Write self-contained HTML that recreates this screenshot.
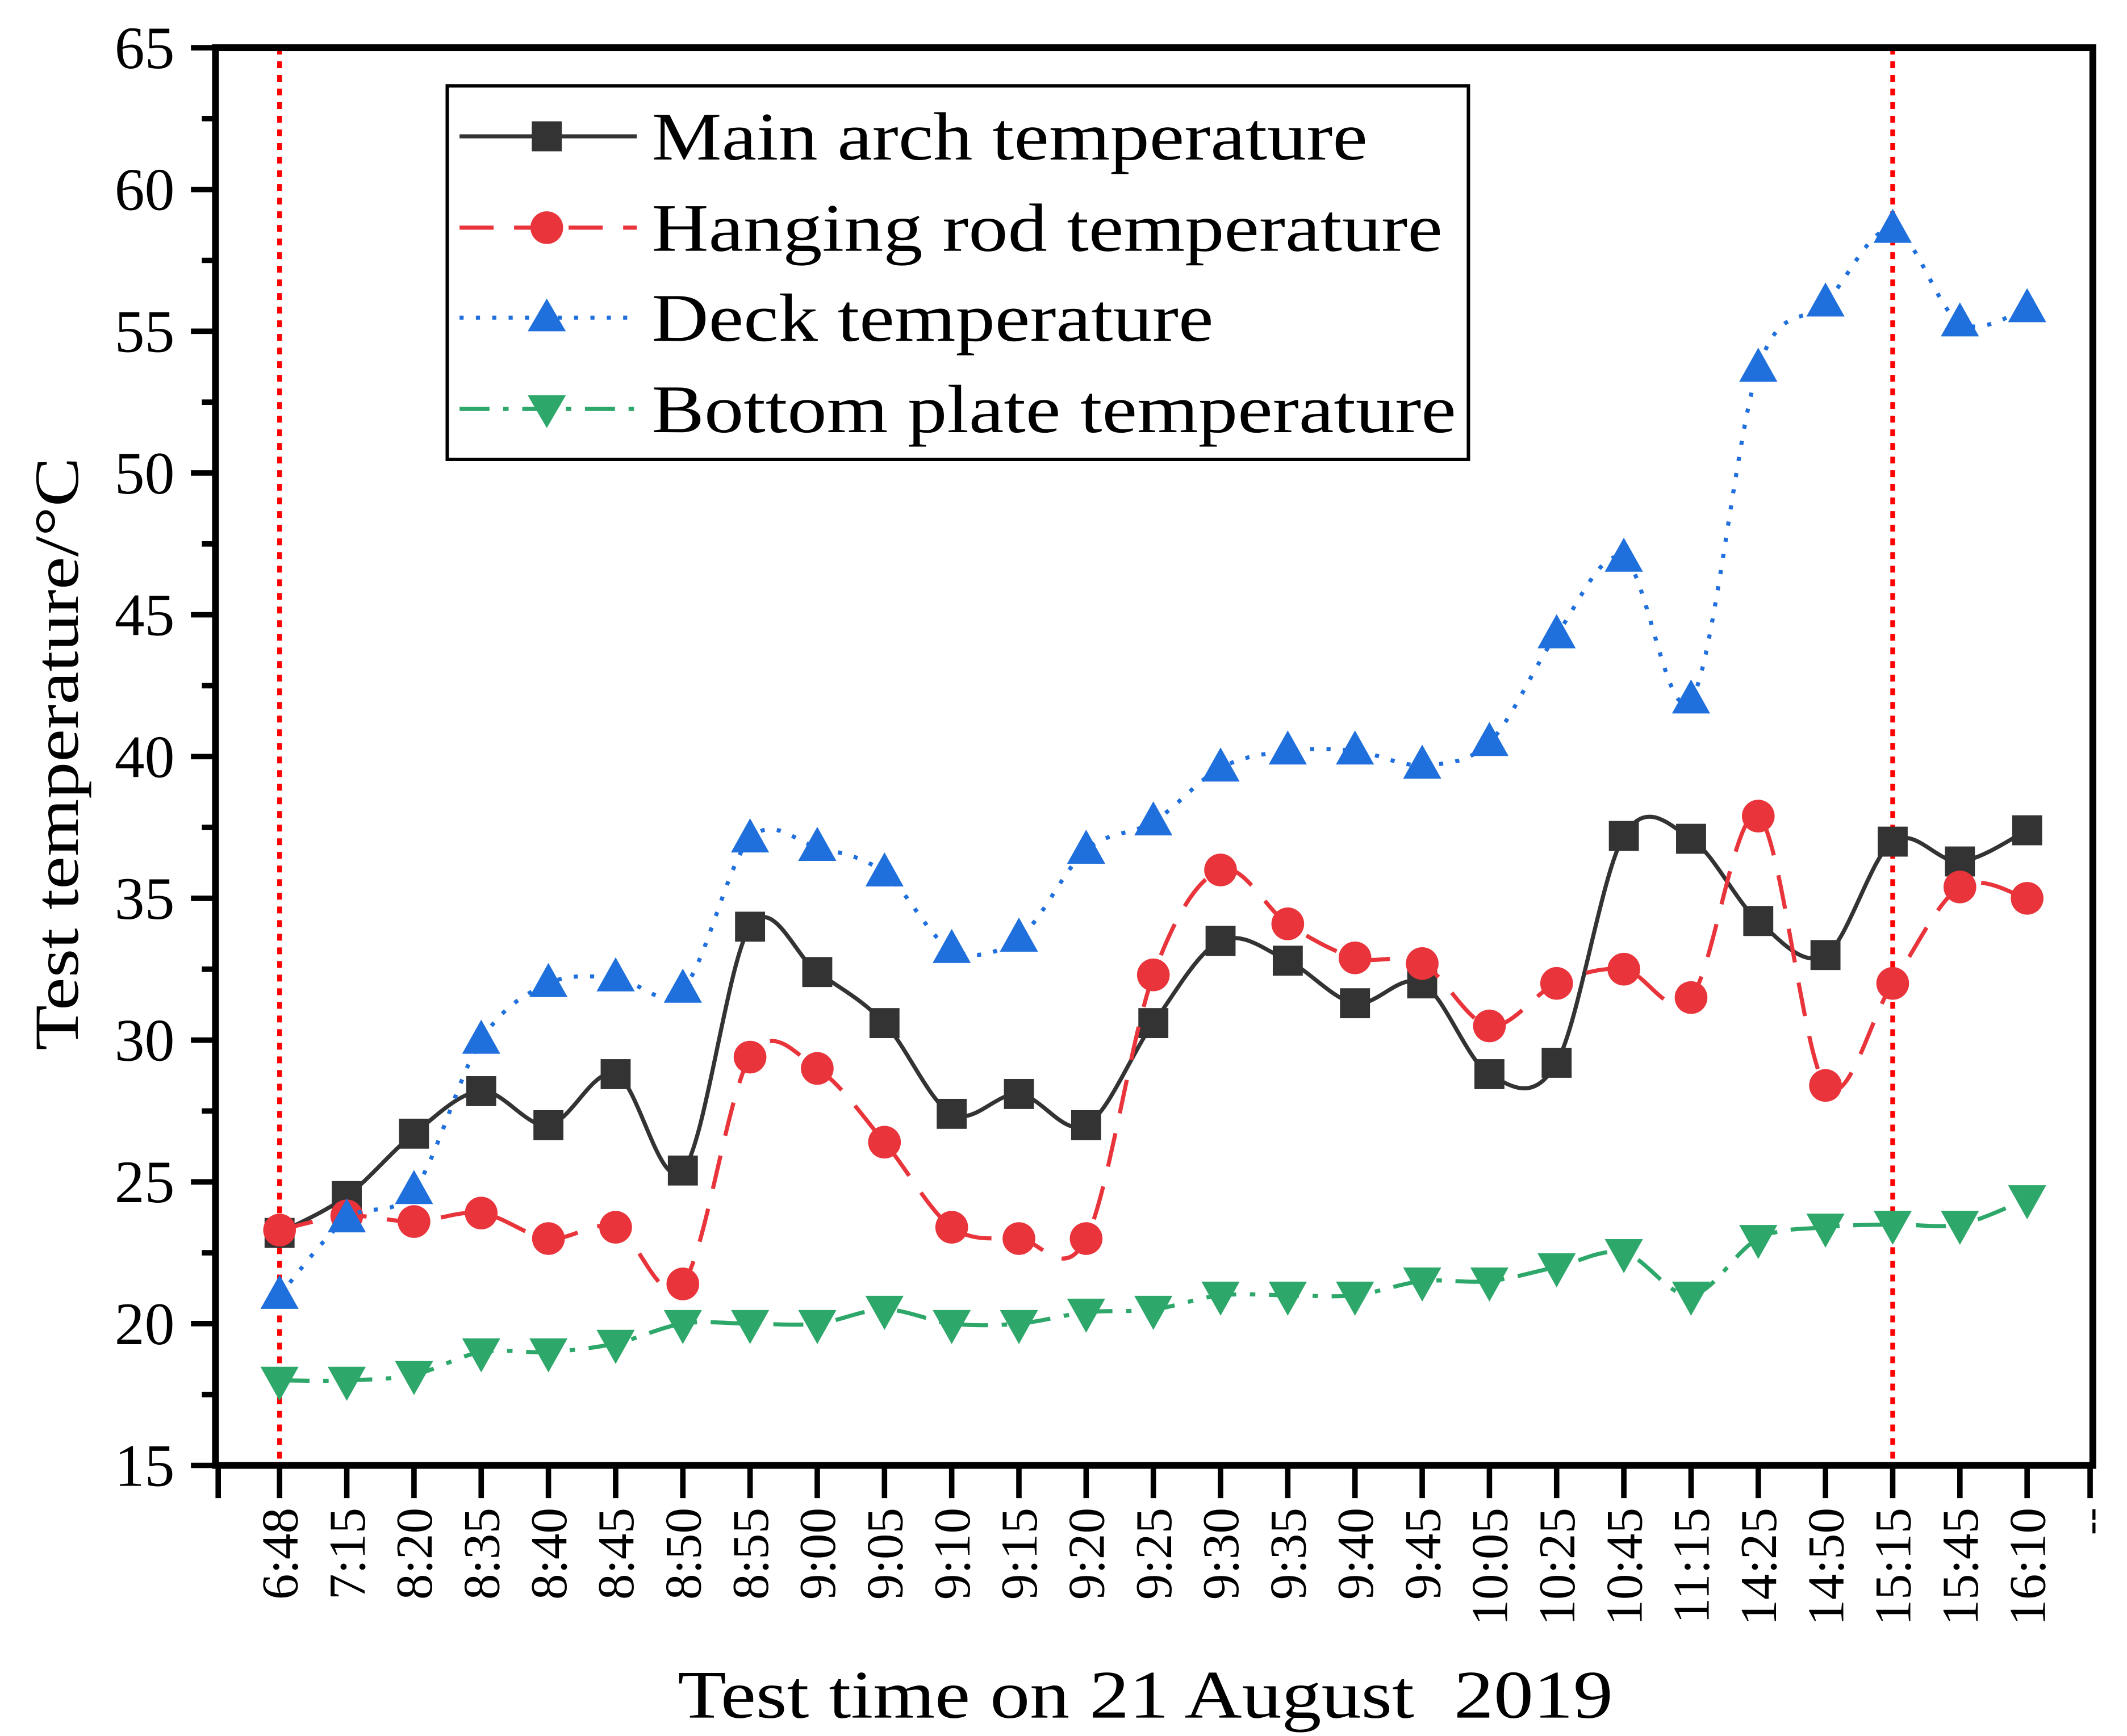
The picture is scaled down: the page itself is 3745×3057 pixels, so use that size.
<!DOCTYPE html>
<html><head><meta charset="utf-8"><style>
html,body{margin:0;padding:0;background:#fff;}
svg{display:block;}
text{font-family:"Liberation Serif",serif;fill:#000;}
</style></head><body>
<svg id="chart" width="3745" height="3057" viewBox="0 0 1560 1273.5" xmlns="http://www.w3.org/2000/svg">
<g id="grid"></g>
<g id="series"></g>
<g id="axes"></g>
<g>
<rect x="328" y="63" width="749" height="274" fill="#fff" stroke="#000" stroke-width="2.5"/>
<g>
<line x1="337" y1="100" x2="467" y2="100" stroke="#333" stroke-width="3"/>
<rect x="390" y="89" width="22" height="22" fill="#333"/>
<text x="478" y="117" font-size="50" textLength="525" lengthAdjust="spacingAndGlyphs">Main arch temperature</text></g>
<g>
<line x1="337" y1="167" x2="467" y2="167" stroke="#e8343a" stroke-width="3" stroke-dasharray="25,15"/>
<circle cx="401" cy="167" r="12" fill="#e8343a"/>
<text x="478" y="184" font-size="50" textLength="580" lengthAdjust="spacingAndGlyphs">Hanging rod temperature</text></g>
<g>
<line x1="337" y1="233" x2="467" y2="233" stroke="#1f6fdc" stroke-width="3" stroke-dasharray="3,9"/>
<path d="M401,219 L415,243 L387,243 Z" fill="#1f6fdc"/>
<text x="478" y="250" font-size="50" textLength="412" lengthAdjust="spacingAndGlyphs">Deck temperature</text></g>
<g>
<line x1="337" y1="300" x2="467" y2="300" stroke="#2ea86a" stroke-width="3" stroke-dasharray="22,10,4,10"/>
<path d="M387,290 L415,290 L401,314 Z" fill="#2ea86a"/>
<text x="478" y="317" font-size="50" textLength="590" lengthAdjust="spacingAndGlyphs">Bottom plate temperature</text></g>
</g>
<text transform="translate(57,553) rotate(-90)" text-anchor="middle" font-size="46" textLength="435" lengthAdjust="spacingAndGlyphs">Test temperature/°C</text>
<text x="840" y="1260" text-anchor="middle" font-size="50" textLength="686" lengthAdjust="spacingAndGlyphs" xml:space="preserve">Test time on 21 August  2019</text>
</svg>
<script>
const categories=["6:48","7:15","8:20","8:35","8:40","8:45","8:50","8:55","9:00","9:05","9:10","9:15","9:20","9:25","9:30","9:35","9:40","9:45","10:05","10:25","10:45","11:15","14:25","14:50","15:15","15:45","16:10"];
const mainArch=[23.2,24.5,26.7,28.2,27.0,28.8,25.4,34.0,32.4,30.6,27.4,28.1,27.0,30.6,33.5,32.8,31.3,32.0,28.8,29.2,37.2,37.1,34.2,33.0,37.0,36.3,37.4];
const hangingRod=[23.3,23.8,23.6,23.9,23.0,23.4,21.4,29.4,29.0,26.4,23.4,23.0,23.0,32.3,36.0,34.1,32.9,32.7,30.5,32.0,32.5,31.5,37.9,28.4,32.0,35.4,35.0];
const deck=[21.0,23.7,24.7,30.0,32.0,32.2,31.8,37.1,36.8,35.9,33.2,33.6,36.7,37.7,39.6,40.2,40.2,39.7,40.5,44.3,47.0,42.0,53.7,56.0,58.6,55.3,55.8];
const bottomPlate=[18.0,18.0,18.2,19.0,19.0,19.3,20.0,20.0,20.0,20.5,20.0,20.0,20.4,20.5,21.0,21.0,21.0,21.5,21.5,22.0,22.5,21.0,23.0,23.4,23.5,23.5,24.4];
const yTicks=[15,20,25,30,35,40,45,50,55,60,65];
const markerLines=["6:48","15:15"];

const NS="http://www.w3.org/2000/svg";
const L=158,R=1535,T=35,B=1075,X0=205,DX=49.3;
function xs(i){return X0+i*DX;}
function ys(v){return B-(v-15)*(B-T)/50;}
function mk(tag,attrs,parent){const e=document.createElementNS(NS,tag);for(const k in attrs)e.setAttribute(k,attrs[k]);parent.appendChild(e);return e;}
const axes=document.getElementById('axes'),series=document.getElementById('series'),grid=document.getElementById('grid');

markerLines.forEach(c=>{const i=categories.indexOf(c);
const l=mk('line',{x1:xs(i),x2:xs(i),y1:T,y2:B+8,stroke:'#ff0000','stroke-width':3.5,'stroke-dasharray':'5,5'},grid);

});

function smoothPath(vals){const p=vals.map((v,i)=>[xs(i),ys(v)]);let d='M'+p[0][0]+','+p[0][1];
for(let i=0;i<p.length-1;i++){const p0=p[i-1]||p[i],p1=p[i],p2=p[i+1],p3=p[i+2]||p2;
const c1=[p1[0]+(p2[0]-p0[0])/6,p1[1]+(p2[1]-p0[1])/6],c2=[p2[0]-(p3[0]-p1[0])/6,p2[1]-(p3[1]-p1[1])/6];
d+=' C'+c1+' '+c2+' '+p2;}return d;}

const defs=[
{name:'main-arch',vals:mainArch,color:'#333',dash:'',m:'sq'},
{name:'hanging-rod',vals:hangingRod,color:'#e8343a',dash:'25,15',m:'ci'},
{name:'deck',vals:deck,color:'#1f6fdc',dash:'3,9',m:'up'},
{name:'bottom-plate',vals:bottomPlate,color:'#2ea86a',dash:'22,10,4,10',m:'dn'}];
defs.forEach(s=>{const g=mk('g',{},series);


const path=mk('path',{d:smoothPath(s.vals),fill:'none',stroke:s.color,'stroke-width':3,'stroke-dasharray':s.dash},g);


s.vals.forEach((v,i)=>{const x=xs(i),y=ys(v);let e;
if(s.m==='sq')e=mk('rect',{x:x-11,y:y-11,width:22,height:22,fill:s.color},g);
else if(s.m==='ci')e=mk('circle',{cx:x,cy:y,r:12,fill:s.color},g);
else if(s.m==='up')e=mk('path',{d:`M${x},${y-15} L${x+14},${y+10} L${x-14},${y+10} Z`,fill:s.color},g);
else e=mk('path',{d:`M${x-14},${y-10} L${x+14},${y-10} L${x},${y+15} Z`,fill:s.color},g);

});});

const fr=mk('rect',{x:L,y:T,width:R-L,height:B-T,fill:'none',stroke:'#000','stroke-width':5},axes);


yTicks.forEach(v=>{mk('line',{x1:L-18,x2:L,y1:ys(v),y2:ys(v),stroke:'#000','stroke-width':4},axes);
if(v<65){mk('line',{x1:L-10,x2:L,y1:ys(v+2.5),y2:ys(v+2.5),stroke:'#000','stroke-width':4},axes);}
const t=mk('text',{x:128,y:ys(v)+15,'text-anchor':'end','font-size':44},axes);t.textContent=v;

});
for(let i=-1;i<=categories.length;i++){const x=i<0?L+2:(i===categories.length?R-2:xs(i));
mk('line',{x1:x,x2:x,y1:B,y2:B+24,stroke:'#000','stroke-width':4},axes);}
categories.forEach((c,i)=>{const t=mk('text',{transform:`translate(${xs(i)+13},1106) rotate(-90)`,'text-anchor':'end','font-size':38},axes);t.textContent=c;

});
const ex=mk('text',{transform:`translate(${R+8},1106) rotate(-90)`,'text-anchor':'end','font-size':30},axes);ex.textContent='--';


</script>
</body></html>
